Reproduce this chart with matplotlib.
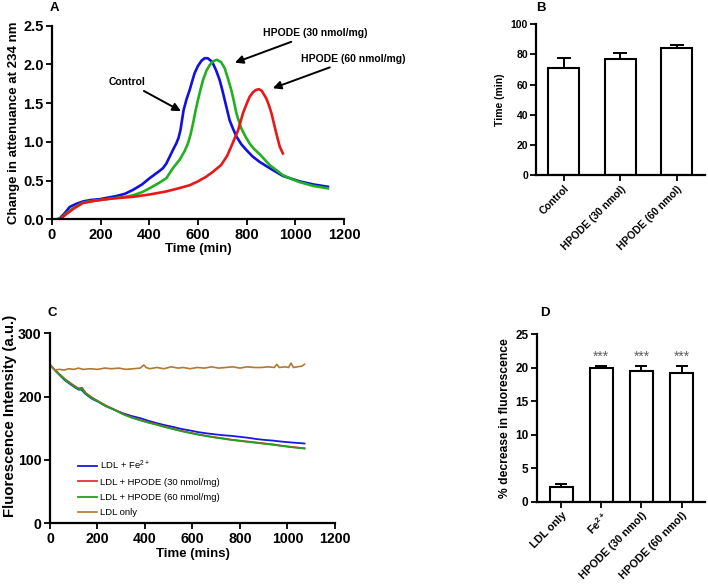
import matplotlib
matplotlib.use("Agg")
import matplotlib.pyplot as plt
import numpy as np

plt.rcParams['font.family'] = ['Liberation Sans', 'DejaVu Sans']
plt.rcParams['mathtext.fontset'] = 'custom'
plt.rcParams['mathtext.rm'] = 'Liberation Sans'
plt.rcParams['mathtext.bf'] = 'Liberation Sans:bold'

# ---------------- Panel A data ----------------
ctrl_t = [0, 20, 31, 50, 73, 100, 127, 160, 196, 230, 264, 300, 333, 370, 401, 440, 456, 470, 484, 497, 511, 520, 528, 541, 553, 566, 576, 586, 600, 615, 628, 640, 652, 662, 675, 689, 700, 710, 720, 730, 744, 758, 778, 799, 825, 854, 895, 949, 1018, 1075, 1134]
ctrl_v = [0.0, 0.0, 0.01, 0.07, 0.16, 0.20, 0.23, 0.25, 0.26, 0.28, 0.30, 0.33, 0.38, 0.45, 0.53, 0.62, 0.66, 0.72, 0.81, 0.895, 0.98, 1.05, 1.15, 1.41, 1.55, 1.67, 1.78, 1.885, 1.98, 2.05, 2.08, 2.08, 2.05, 2.01, 1.92, 1.80, 1.67, 1.54, 1.41, 1.28, 1.17, 1.07, 0.97, 0.895, 0.81, 0.74, 0.66, 0.56, 0.49, 0.45, 0.42]

h30_t = [0, 25, 40, 60, 90, 127, 160, 200, 250, 300, 333, 370, 401, 440, 470, 497, 525, 545, 559, 570, 580, 590, 600, 610, 621, 635, 648, 662, 678, 695, 710, 722, 737, 748, 758, 768, 778, 795, 812, 830, 854, 895, 949, 985, 1018, 1075, 1134]
h30_v = [0.0, 0.0, 0.02, 0.08, 0.15, 0.215, 0.235, 0.25, 0.27, 0.29, 0.31, 0.35, 0.40, 0.47, 0.53, 0.66, 0.77, 0.88, 0.98, 1.10, 1.24, 1.40, 1.54, 1.67, 1.80, 1.92, 1.99, 2.04, 2.06, 2.03, 1.95, 1.83, 1.67, 1.52, 1.37, 1.27, 1.175, 1.07, 0.98, 0.91, 0.84, 0.70, 0.57, 0.52, 0.48, 0.43, 0.40]

h60_t = [0, 25, 40, 60, 90, 127, 160, 200, 250, 333, 400, 470, 520, 566, 600, 634, 660, 695, 720, 737, 750, 765, 775, 785, 800, 812, 826, 838, 850, 862, 881, 892, 902, 912, 922, 936, 949]
h60_v = [0.0, 0.0, 0.02, 0.07, 0.14, 0.21, 0.23, 0.25, 0.27, 0.29, 0.32, 0.36, 0.40, 0.44, 0.49, 0.55, 0.61, 0.70, 0.82, 0.94, 1.04, 1.15, 1.26, 1.37, 1.49, 1.58, 1.64, 1.67, 1.68, 1.66, 1.56, 1.47, 1.37, 1.24, 1.11, 0.94, 0.85]

# ---------------- Panel B data ----------------
b_cats = ['Control', 'HPODE (30 nmol)', 'HPODE (60 nmol)']
b_vals = [71, 77, 84]
b_errs = [6.5, 4.0, 2.0]

# ---------------- Panel C data ----------------
fe_t = [0, 30, 62, 95, 120, 132, 150, 175, 202, 235, 272, 305, 342, 380, 413, 450, 483, 520, 553, 590, 623, 660, 693, 730, 764, 800, 834, 870, 904, 940, 974, 1020, 1072]
fe_v = [250, 238, 226, 217, 211, 211, 204, 197, 192, 185, 179, 174, 169.5, 166, 162, 158, 155, 152, 149, 146.5, 144, 142, 140.5, 139, 138, 136.5, 135, 133, 131.6, 130.5, 129, 127.5, 126]

h30c_t = [0, 30, 62, 95, 120, 135, 150, 175, 202, 235, 272, 305, 342, 380, 413, 450, 483, 520, 553, 590, 623, 660, 693, 730, 764, 800, 834, 870, 904, 940, 974, 1020, 1072]
h30c_v = [250, 239, 228, 219, 213, 214, 206, 199, 193, 186, 179.5, 173, 167.5, 163, 159.5, 156, 152.6, 149, 146, 143, 140.5, 138, 136, 134, 132, 130.5, 129, 127.5, 126, 124.5, 122.6, 120.5, 118.4]

h60c_t = [0, 30, 62, 95, 120, 135, 150, 175, 202, 235, 272, 305, 342, 380, 413, 450, 483, 520, 553, 590, 623, 660, 693, 730, 764, 800, 834, 870, 904, 940, 974, 1020, 1072]
h60c_v = [250, 238, 227, 218, 212, 212, 205, 198, 192.5, 185, 179, 172.5, 167, 162.5, 159, 155.5, 152, 148.5, 145.5, 142.5, 140, 137.5, 135.5, 133.5, 131.6, 130, 128.5, 127, 125.5, 124, 122.2, 120, 118]

ldl_t = [0, 10, 20, 40, 60, 80, 100, 120, 140, 170, 200, 230, 260, 290, 320, 350, 380, 395, 405, 420, 450, 480, 510, 540, 560, 590, 620, 650, 680, 710, 740, 770, 800, 830, 860, 890, 920, 945, 955, 965, 990, 1005, 1015, 1025, 1040, 1060, 1072]
ldl_v = [251, 246, 242, 243, 242, 244, 243, 245, 243, 244, 243, 245, 244, 245, 243, 244, 245, 250, 246, 244, 246, 244, 247, 245, 246, 244, 246, 245, 247, 245, 246, 247, 245, 247, 246, 246, 247, 246, 251, 246, 247, 246, 253, 246, 247, 248, 251]

# ---------------- Panel D data ----------------
d_cats = ['LDL only', r'Fe$^{\mathbf{2+}}$', 'HPODE (30 nmol)', 'HPODE (60 nmol)']
d_vals = [2.24, 19.88, 19.48, 19.24]
d_errs = [0.34, 0.40, 0.80, 1.04]
d_stars = ['', '***', '***', '***']

fig = plt.figure(figsize=(7.08, 5.85), dpi=100)

SPW = 1.6

def style(ax, lsize):
    for s in ['top', 'right']:
        ax.spines[s].set_visible(False)
    for s in ['left', 'bottom']:
        ax.spines[s].set_linewidth(SPW)
    ax.tick_params(direction='out', length=4, width=1.3, labelsize=lsize, pad=2)
    for lab in ax.get_xticklabels() + ax.get_yticklabels():
        lab.set_fontweight('bold')

# ---- A ----
axA = fig.add_axes([0.0734, 0.6251, 0.4124, 0.3310])
axA.plot(ctrl_t, ctrl_v, color='#1010e0', lw=1.9)
axA.plot(h30_t, h30_v, color='#20b020', lw=1.9)
axA.plot(h60_t, h60_v, color='#e81818', lw=1.9)
axA.set_xlim(0, 1200)
axA.set_ylim(0, 2.5)
axA.set_xticks(np.arange(0, 1201, 200))
axA.set_yticks(np.arange(0, 2.51, 0.5))
axA.set_yticklabels([f'{v:.1f}' for v in np.arange(0, 2.51, 0.5)])
style(axA, 10.5)
axA.set_xlabel('Time (min)', fontsize=9.5, fontweight='bold', labelpad=1)
axA.set_ylabel('Change in attenuance at 234 nm', fontsize=9.5, fontweight='bold', labelpad=2)
ap = dict(arrowstyle='-|>', color='black', lw=1.4, mutation_scale=12)
axA.annotate('Control', xy=(540, 1.38), xytext=(385, 1.71), fontsize=7.5, fontweight='bold',
             ha='right', va='bottom', arrowprops=ap, annotation_clip=False)
axA.annotate('HPODE (30 nmol/mg)', xy=(741, 2.01), xytext=(866, 2.34), fontsize=7.5, fontweight='bold',
             ha='left', va='bottom', arrowprops=ap, annotation_clip=False)
axA.annotate('HPODE (60 nmol/mg)', xy=(897, 1.68), xytext=(1025, 2.01), fontsize=7.5, fontweight='bold',
             ha='left', va='bottom', arrowprops=ap, annotation_clip=False)
fig.text(50 / 708, 1 - 8 / 585, 'A', fontsize=9.5, fontweight='bold', ha='left', va='center')

# ---- B ----
axB = fig.add_axes([0.7575, 0.7003, 0.2383, 0.2582])
xb = np.arange(len(b_cats))
axB.bar(xb, b_vals, width=0.55, color='white', edgecolor='black', linewidth=1.5, zorder=2)
axB.errorbar(xb, b_vals, yerr=[[0] * len(b_errs), b_errs], fmt='none', ecolor='black',
             elinewidth=1.4, capsize=5, capthick=1.4, zorder=1)
axB.set_xlim(-0.49, 2.5)
axB.set_ylim(0, 100)
axB.set_xticks(xb)
axB.set_xticklabels(b_cats, rotation=45, ha='right', rotation_mode='anchor')
axB.set_yticks(np.arange(0, 101, 20))
style(axB, 7.5)
axB.set_ylabel('Time (min)', fontsize=7.5, fontweight='bold', labelpad=4)
fig.text(536 / 708, 1 - 8 / 585, 'B', fontsize=9.5, fontweight='bold', ha='left', va='center')

# ---- C ----
axC = fig.add_axes([0.0706, 0.1055, 0.4025, 0.3248])
axC.plot(fe_t, fe_v, color='#1818e0', lw=1.3, label=r'LDL + Fe$^{2+}$')
axC.plot(h30c_t, h30c_v, color='#e83030', lw=1.3, label='LDL + HPODE (30 nmol/mg)')
axC.plot(h60c_t, h60c_v, color='#20a020', lw=1.3, label='LDL + HPODE (60 nmol/mg)')
axC.plot(ldl_t, ldl_v, color='#b07830', lw=1.2, label='LDL only')
axC.set_xlim(0, 1200)
axC.set_ylim(0, 300)
axC.set_xticks(np.arange(0, 1201, 200))
axC.set_yticks(np.arange(0, 301, 100))
style(axC, 10.2)
axC.set_xlabel('Time (mins)', fontsize=9.5, fontweight='bold', labelpad=2)
axC.set_ylabel('Fluorescence Intensity (a.u.)', fontsize=10.8, fontweight='bold')
axC.yaxis.set_label_coords(-0.115, 0.565)
axC.legend(loc='lower left', bbox_to_anchor=(0.07, -0.012), frameon=False, fontsize=6.8,
           handlelength=2.0, labelspacing=0.65, handletextpad=0.25)
fig.text(48 / 708, 1 - 313 / 585, 'C', fontsize=9.5, fontweight='bold', ha='left', va='center')

# ---- D ----
axD = fig.add_axes([0.758, 0.1424, 0.2377, 0.2866])
xd = np.arange(len(d_cats))
axD.bar(xd, d_vals, width=0.57, color='white', edgecolor='black', linewidth=1.5, zorder=2)
axD.errorbar(xd, d_vals, yerr=[[0] * len(d_errs), d_errs], fmt='none', ecolor='black',
             elinewidth=1.4, capsize=4.5, capthick=1.4, zorder=1)
for xi, v, e, s in zip(xd, d_vals, d_errs, d_stars):
    if s:
        axD.text(xi, 20.6, s, ha='center', va='bottom', fontsize=10, color='#606060')
axD.set_xlim(-0.61, 3.58)
axD.set_ylim(0, 25)
axD.set_xticks(xd)
axD.set_xticklabels(d_cats, rotation=45, ha='right', rotation_mode='anchor')
axD.set_yticks(np.arange(0, 26, 5))
style(axD, 8.5)
for lab in axD.get_xticklabels():
    lab.set_fontsize(7.8)
axD.set_ylabel('% decrease in fluorescence', fontsize=8.7, fontweight='bold', labelpad=3)
fig.text(540 / 708, 1 - 313 / 585, 'D', fontsize=9.5, fontweight='bold', ha='left', va='center')

fig.savefig('out.png', dpi=100)
